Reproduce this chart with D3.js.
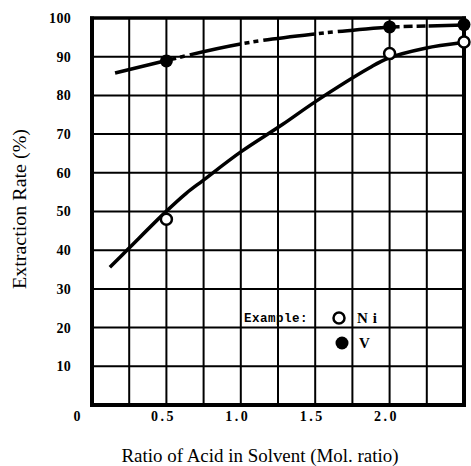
<!DOCTYPE html>
<html>
<head>
<meta charset="utf-8">
<script src="https://cdn.jsdelivr.net/npm/d3@7"></script>
<style>
  html, body { margin: 0; padding: 0; background: #fff; }
  svg { display: block; }
</style>
</head>
<body>
<svg id="chart" width="471" height="466"></svg>
<script>
// ---- data ----
const xTicks = [0.5, 1.0, 1.5, 2.0];
const xTickLabels = ["0.5", "1.0", "1.5", "2.0"];
const yTicks = [10, 20, 30, 40, 50, 60, 70, 80, 90, 100];
const xGrid = [0.25, 0.5, 0.75, 1.0, 1.25, 1.5, 1.75, 2.0, 2.25];
const yGrid = [10, 20, 30, 40, 50, 60, 70, 80, 90];

// measured points
const niX = [0.5, 2.0, 2.5];
const niY = [48, 90.8, 93.8];
const vX = [0.5, 2.0, 2.5];
const vY = [88.9, 97.7, 98.3];

// fitted curves (as drawn on the chart)
const niCurveX = [0.12, 0.243, 0.495, 0.633, 0.745, 1.0, 1.277, 1.502, 1.86, 1.99, 2.24, 2.48];
const niCurveY = [35.6, 40.3, 49.9, 54.7, 58.0, 65.4, 72.4, 78.4, 87.0, 89.6, 92.2, 93.6];
const vCurveX = [0.155, 0.5, 1.0, 1.5, 2.0, 2.5];
const vCurveY = [85.8, 89.0, 93.3, 95.9, 97.7, 98.2];

(function () {
// ---- layout ----
const svg = d3.select("#chart");
const L = 92, R = 464, T = 18, B = 405;
const x = d3.scaleLinear().domain([0, 2.5]).range([L, R]);
const y = d3.scaleLinear().domain([0, 100]).range([B, T]);

// grid
const g = svg.append("g");
g.selectAll("line.vx").data(xGrid).join("line")
  .attr("x1", d => x(d)).attr("x2", d => x(d))
  .attr("y1", T).attr("y2", B)
  .attr("stroke", "#000").attr("stroke-width", 2);
g.selectAll("line.hy").data(yGrid).join("line")
  .attr("x1", L).attr("x2", R)
  .attr("y1", d => y(d)).attr("y2", d => y(d))
  .attr("stroke", "#000").attr("stroke-width", 2);

// frame
g.append("line").attr("x1", L).attr("x2", L).attr("y1", T - 1.5).attr("y2", B + 2)
  .attr("stroke", "#000").attr("stroke-width", 4);
g.append("line").attr("x1", L - 2).attr("x2", R + 2).attr("y1", B).attr("y2", B)
  .attr("stroke", "#000").attr("stroke-width", 4);
g.append("line").attr("x1", L - 2).attr("x2", R + 2).attr("y1", T).attr("y2", T)
  .attr("stroke", "#000").attr("stroke-width", 3.5);
g.append("line").attr("x1", R).attr("x2", R).attr("y1", T - 1.5).attr("y2", B + 2)
  .attr("stroke", "#000").attr("stroke-width", 4);

// tick labels
const tickFont = "'Liberation Serif', 'DejaVu Serif', serif";
svg.append("g").selectAll("text").data(yTicks).join("text")
  .attr("x", 71).attr("y", d => y(d)).attr("dy", "0.35em")
  .attr("text-anchor", "end")
  .attr("font-family", tickFont).attr("font-weight", "bold").attr("font-size", 14)
  .attr("letter-spacing", 0.3)
  .text(d => d);
svg.append("text").attr("x", 77).attr("y", 416).attr("dy", "0.35em")
  .attr("text-anchor", "middle")
  .attr("font-family", tickFont).attr("font-weight", "bold").attr("font-size", 14)
  .text("0");
svg.append("g").selectAll("text").data(xTicks).join("text")
  .attr("x", d => x(d) - 3).attr("y", 416).attr("dy", "0.35em")
  .attr("text-anchor", "middle")
  .attr("font-family", tickFont).attr("font-weight", "bold").attr("font-size", 14)
  .attr("letter-spacing", 2.5)
  .text((d, i) => xTickLabels[i]);

// axis titles
svg.append("text")
  .attr("x", 260).attr("y", 456).attr("dy", "0.35em")
  .attr("text-anchor", "middle")
  .attr("font-family", "'Liberation Serif', serif").attr("font-size", 18)
  .attr("textLength", 277).attr("lengthAdjust", "spacingAndGlyphs")
  .text("Ratio of Acid in Solvent (Mol. ratio)");
svg.append("text")
  .attr("transform", "translate(20,209) rotate(-90)")
  .attr("dy", "0.35em")
  .attr("text-anchor", "middle")
  .attr("font-family", "'Liberation Serif', serif").attr("font-size", 18)
  .attr("textLength", 160).attr("lengthAdjust", "spacingAndGlyphs")
  .text("Extraction Rate (%)");

// curves
const line = d3.line().x(d => x(d[0])).y(d => y(d[1])).curve(d3.curveCatmullRom.alpha(0.5));
const niCurve = niCurveX.map((v, i) => [v, niCurveY[i]]);
svg.append("path").datum(niCurve).attr("d", line)
  .attr("fill", "none").attr("stroke", "#000").attr("stroke-width", 3.5);

const vCurve = vCurveX.map((v, i) => [v, vCurveY[i]]);
const vLine = d3.line().x(d => x(d[0])).y(d => y(d[1])).curve(d3.curveMonotoneX);
svg.append("path").datum(vCurve.filter(d => d[0] <= 0.5)).attr("d", vLine)
  .attr("fill", "none").attr("stroke", "#000").attr("stroke-width", 3.5);
svg.append("path").datum(vCurve.filter(d => d[0] >= 0.5 && d[0] <= 2.0)).attr("d", vLine)
  .attr("fill", "none").attr("stroke", "#000").attr("stroke-width", 3.5)
  .attr("stroke-dasharray", "52,4,5,4,5,5").attr("stroke-dashoffset", 51);
svg.append("path").datum(vCurve.filter(d => d[0] >= 2.0)).attr("d", vLine)
  .attr("fill", "none").attr("stroke", "#000").attr("stroke-width", 3.5)
  .attr("stroke-dasharray", "10,4,9,4,9,3,60");

// markers
svg.append("g").selectAll("circle").data(niX).join("circle")
  .attr("cx", d => x(d)).attr("cy", (d, i) => y(niY[i])).attr("r", 5.5)
  .attr("fill", "#fff").attr("stroke", "#000").attr("stroke-width", 2.5);
svg.append("g").selectAll("circle").data(vX).join("circle")
  .attr("cx", d => x(d)).attr("cy", (d, i) => y(vY[i])).attr("r", 6.5)
  .attr("fill", "#000");

// legend
const legFont = "'Liberation Mono', 'DejaVu Sans Mono', monospace";
svg.append("text").attr("x", 244).attr("y", 318).attr("dy", "0.35em")
  .attr("font-family", legFont).attr("font-weight", "bold").attr("font-size", 12.5)
  .attr("letter-spacing", 0.5)
  .text("Example:");
svg.append("circle").attr("cx", 339).attr("cy", 318).attr("r", 5.5)
  .attr("fill", "#fff").attr("stroke", "#000").attr("stroke-width", 2.5);
svg.append("circle").attr("cx", 342).attr("cy", 343).attr("r", 6.5).attr("fill", "#000");
svg.append("text").attr("x", 357).attr("y", 318).attr("dy", "0.35em")
  .attr("font-family", tickFont).attr("font-weight", "bold").attr("font-size", 15)
  .attr("letter-spacing", 5)
  .text("Ni");
svg.append("text").attr("x", 359).attr("y", 343).attr("dy", "0.35em")
  .attr("font-family", tickFont).attr("font-weight", "bold").attr("font-size", 15)
  .text("V");
})();
</script>
</body>
</html>
